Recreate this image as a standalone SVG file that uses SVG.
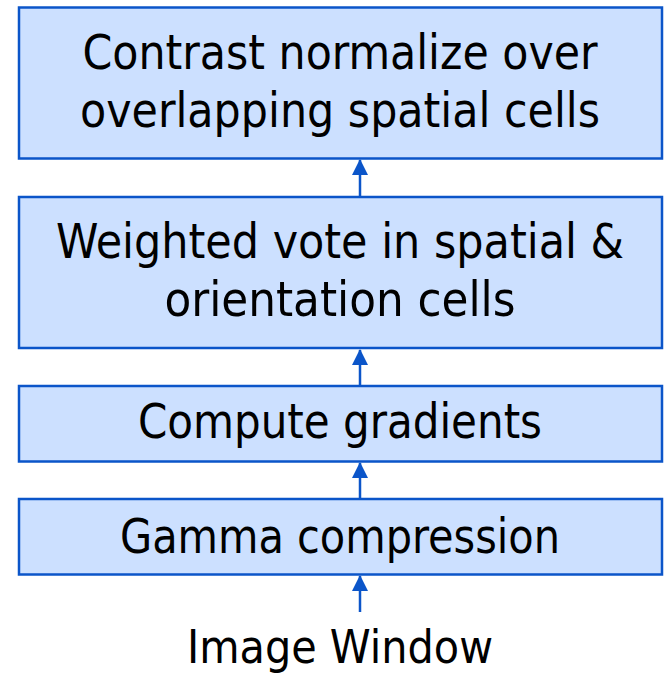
<svg xmlns="http://www.w3.org/2000/svg" width="667" height="674" viewBox="0 0 667 674">
<style>
.box{fill:#cce0ff;stroke:#0b55c9;stroke-width:2.5}
.lbl{font-family:"DejaVu Sans Condensed","DejaVu Sans","Open Sans",sans-serif;font-stretch:condensed;font-size:48px;fill:#000;text-anchor:middle}
.conn{stroke:#0b55c9;stroke-width:2.5;fill:none;marker-end:url(#ah)}
</style>
<defs>
<marker id="ah" markerUnits="userSpaceOnUse" markerWidth="16" markerHeight="16" viewBox="0 0 16 16" refX="15" refY="8" orient="auto">
<path d="M0,0 L16,8 L0,16 Z" fill="#0b55c9"/>
</marker>
</defs>
<rect width="667" height="674" fill="#fff"/>
<g id="n1"><rect class="box" x="19" y="7.5" width="643" height="151"/>
<text class="lbl" x="340" y="69" textLength="515" lengthAdjust="spacingAndGlyphs">Contrast normalize over</text>
<text class="lbl" x="340" y="127" textLength="520" lengthAdjust="spacingAndGlyphs">overlapping spatial cells</text></g>
<g id="n2"><rect class="box" x="19" y="197" width="643" height="151"/>
<text class="lbl" x="340" y="258" textLength="568" lengthAdjust="spacingAndGlyphs">Weighted vote in spatial &amp;</text>
<text class="lbl" x="340" y="316" textLength="351" lengthAdjust="spacingAndGlyphs">orientation cells</text></g>
<g id="n3"><rect class="box" x="19" y="386" width="643" height="75.5"/>
<text class="lbl" x="340" y="438" textLength="404" lengthAdjust="spacingAndGlyphs">Compute gradients</text></g>
<g id="n4"><rect class="box" x="19" y="499" width="643" height="75.5"/>
<text class="lbl" x="340" y="553" textLength="440" lengthAdjust="spacingAndGlyphs">Gamma compression</text></g>
<g id="n5"><text class="lbl" x="340" y="663" style="font-size:46px" textLength="306" lengthAdjust="spacingAndGlyphs">Image Window</text></g>
<g id="connectors">
<line class="conn" x1="360" y1="612" x2="360" y2="576"/>
<line class="conn" x1="360" y1="499" x2="360" y2="463"/>
<line class="conn" x1="360" y1="386" x2="360" y2="350"/>
<line class="conn" x1="360" y1="197" x2="360" y2="160"/>
</g>
</svg>
